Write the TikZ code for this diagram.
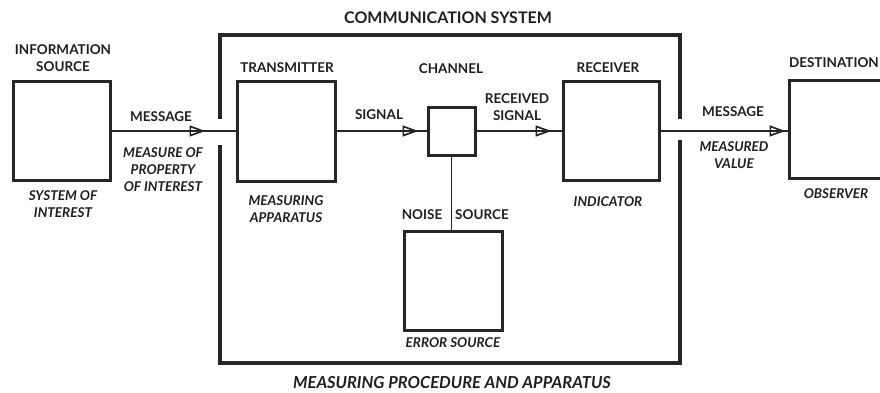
\documentclass[tikz,border=0pt]{standalone}
\usepackage{fontspec}
\setmainfont{Lato}
\usetikzlibrary{arrows.meta,decorations.markings}
\begin{document}
\begin{tikzpicture}[x=1pt,y=-1pt,
  box/.style={draw=black!85,line width=3pt,minimum width=#1,minimum height=#1,inner sep=0pt},
  lbl/.style={font=\fontsize{13.5}{17}\selectfont\bfseries,text=black!88,align=center,inner sep=0pt},
  ilbl/.style={font=\fontsize{13.5}{17}\selectfont\bfseries\itshape,text=black!88,align=center,inner sep=0pt},
  wire/.style={draw=black!85,line width=1.7pt},
  wall/.style={draw=black!85,line width=4pt},
  midarrow/.style={postaction={decorate,decoration={markings,
     mark=at position -#1 with {\arrow[line width=1.7pt]{Triangle[open,length=16pt,width=11pt]}}}}}
]
\useasboundingbox (0,0) rectangle (880,392);
% boxes
\node[box=97pt,minimum height=99pt] (info) at (61.5,131) {};
\node[box=98pt,minimum height=100pt] (trans) at (286,131) {};
\node[box=47pt,minimum height=48pt] (chan) at (451.5,131) {};
\node[box=96pt,minimum height=99pt] (recv) at (611,131) {};
\node[box=98pt,minimum height=98pt] (dest) at (838,129) {};
\node[box=98pt,minimum height=99pt] (err) at (453,280.5) {};
% frame
\draw[wall] (220,119) -- (220,35) -- (680,35) -- (680,119);
\draw[wall] (220,145) -- (220,363) -- (680,363) -- (680,140);
% connectors
\draw[wire,midarrow=30pt] (info.east) -- (trans.west);
\draw[wire,midarrow=8pt] (trans.east) -- (chan.west);
\draw[wire,midarrow=10pt] (chan.east) -- (recv.west);
\draw[wire,midarrow=2pt] (recv.east) -- (recv.east -| dest.west);
\draw[wire] (chan.south) -- (chan.south |- err.north);
% labels
\node[lbl,font=\fontsize{16}{19}\selectfont\bfseries] (t1) at (448,18) {COMMUNICATION SYSTEM};
\node[lbl] (t2) at (63,58.5) {INFORMATION\\SOURCE};
\node[lbl] (t3) at (161,117) {MESSAGE};
\node[ilbl] (t4) at (163,170) {MEASURE OF\\PROPERTY\\OF INTEREST};
\node[ilbl] (t5) at (63,204.5) {SYSTEM OF\\INTEREST};
\node[lbl] (t6) at (287,68) {TRANSMITTER};
\node[ilbl] (t7) at (286,209.5) {MEASURING\\APPARATUS};
\node[lbl] (t8) at (451,69) {CHANNEL};
\node[lbl] (t9) at (379,115) {SIGNAL};
\node[lbl] (t10) at (517,107) {RECEIVED\\SIGNAL};
\node[lbl] (t11) at (608,68) {RECEIVER};
\node[ilbl] (t12) at (608,202) {INDICATOR};
\node[lbl] (t13) at (422,215) {NOISE};
\node[lbl] (t14) at (482,215) {SOURCE};
\node[ilbl] (t15) at (453,343) {ERROR SOURCE};
\node[ilbl,font=\fontsize{16.5}{19}\selectfont\bfseries\itshape] (t16) at (452,383) {MEASURING PROCEDURE AND APPARATUS};
\node[lbl,anchor=east] (t17) at (879,63) {DESTINATION};
\node[lbl] (t18) at (733,112) {MESSAGE};
\node[ilbl] (t19) at (734,155.5) {MEASURED\\VALUE};
\node[ilbl] (t20) at (836,194) {OBSERVER};
\end{tikzpicture}
\end{document}
